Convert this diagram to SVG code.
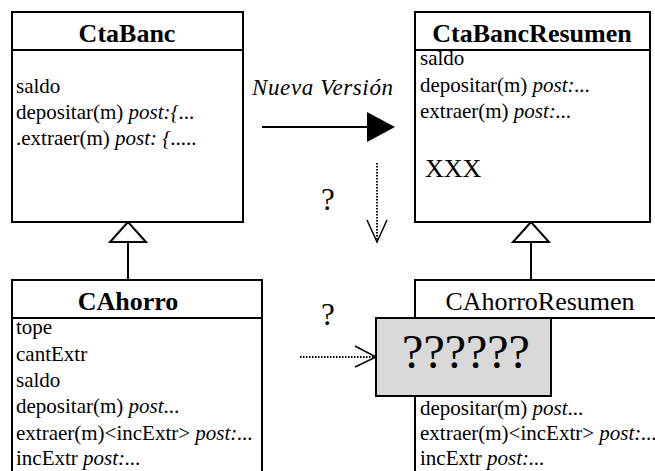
<svg xmlns="http://www.w3.org/2000/svg" width="655" height="471" viewBox="0 0 655 471">
<style>
.box{fill:#fff;stroke:#000;stroke-width:2}
.t{font-family:"Liberation Serif","Times New Roman",serif;font-size:21px;fill:#000}
.title{font-family:"Liberation Serif","Times New Roman",serif;font-size:26px;fill:#000;text-anchor:middle}
.b{font-weight:bold}
.i{font-style:italic}
.line{stroke:#000;stroke-width:2;fill:none}
.dot{stroke:#000;stroke-width:2;stroke-dasharray:1.5 1.5;fill:none}
.tri{fill:#fff;stroke:#000;stroke-width:2}
</style>
<rect width="655" height="471" fill="#fff"/>
<g id="connectors">
  <line class="line" x1="128" y1="242" x2="128" y2="280"/>
  <polygon class="tri" points="128,222 110,242 146,242"/>
  <line class="line" x1="531" y1="242" x2="531" y2="280"/>
  <polygon class="tri" points="531,222 513,242 549,242"/>
  <line class="line" x1="262" y1="127" x2="368" y2="127"/>
  <polygon points="367,112 395,127 367,142" fill="#000"/>
  <text class="t i" x="252" y="95" style="font-size:23px" textLength="141">Nueva Versión</text>
  <line class="dot" x1="377" y1="163" x2="377" y2="240"/>
  <polyline points="367,220 377,242 387,220" fill="none" stroke="#000" stroke-width="1.5"/>
  <text class="title" x="328" y="210" style="font-size:31px">?</text>
  <line class="dot" x1="300" y1="357" x2="374" y2="357"/>
  <polyline points="355,346 376,357 355,367" fill="none" stroke="#000" stroke-width="1.5"/>
  <text class="title" x="328" y="325" style="font-size:31px">?</text>
</g>
<g id="CtaBanc">
  <rect class="box" x="12" y="12" width="231" height="210"/>
  <line class="line" x1="12" y1="50" x2="243" y2="50"/>
  <text class="title b" x="127" y="42">CtaBanc</text>
  <text class="t" x="16" y="93">saldo</text>
  <text class="t" x="16" y="119">depositar(m) <tspan class="i">post:{...</tspan></text>
  <text class="t" x="16" y="145">.extraer(m) <tspan class="i">post: {.....</tspan></text>
</g>
<g id="CtaBancResumen">
  <rect class="box" x="415" y="12" width="235" height="210"/>
  <line class="line" x1="415" y1="50" x2="650" y2="50"/>
  <text class="title b" x="532" y="42">CtaBancResumen</text>
  <text class="t" x="420" y="65">saldo</text>
  <text class="t" x="420" y="92">depositar(m) <tspan class="i">post:...</tspan></text>
  <text class="t" x="420" y="118">extraer(m) <tspan class="i">post:...</tspan></text>
  <text class="t" x="425" y="177" style="font-size:26px">XXX</text>
</g>
<g id="CAhorro">
  <rect class="box" x="12" y="280" width="250" height="200"/>
  <line class="line" x1="12" y1="318" x2="262" y2="318"/>
  <text class="title b" x="128" y="310">CAhorro</text>
  <text class="t" x="16" y="334">tope</text>
  <text class="t" x="16" y="361">cantExtr</text>
  <text class="t" x="16" y="387">saldo</text>
  <text class="t" x="16" y="413">depositar(m) <tspan class="i">post</tspan>...</text>
  <text class="t" x="16" y="440">extraer(m)&lt;incExtr&gt; <tspan class="i">post:...</tspan></text>
  <text class="t" x="16" y="465">incExtr <tspan class="i">post:...</tspan></text>
</g>
<g id="CAhorroResumen">
  <rect class="box" x="415" y="280" width="260" height="200"/>
  <line class="line" x1="415" y1="318" x2="655" y2="318"/>
  <text class="title" x="540" y="310">CAhorroResumen</text>
  <text class="t" x="420" y="415">depositar(m) <tspan class="i">post</tspan>...</text>
  <text class="t" x="420" y="440">extraer(m)&lt;incExtr&gt; <tspan class="i">post:...</tspan></text>
  <text class="t" x="420" y="465">incExtr <tspan class="i">post:...</tspan></text>
</g>
<g id="Unknown">
  <rect x="376" y="318" width="175" height="78" fill="#d9d9d9" stroke="#000" stroke-width="2"/>
  <text class="title" x="466" y="368" style="font-size:48px">??????</text>
</g>
</svg>
